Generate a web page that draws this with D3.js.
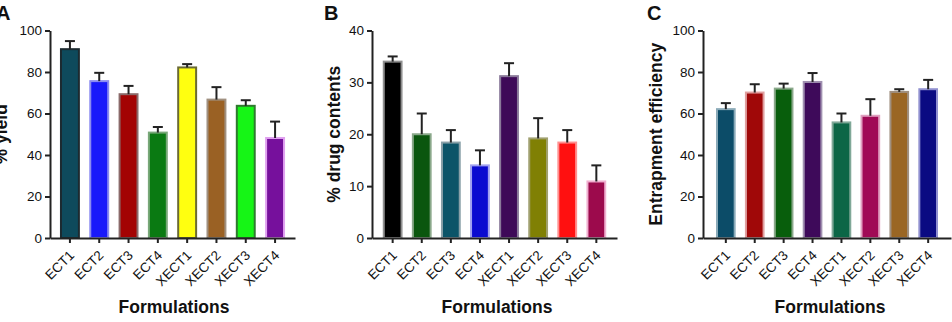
<!DOCTYPE html>
<html>
<head>
<meta charset="UTF-8">
<script src="https://cdn.jsdelivr.net/npm/d3@7"></script>
<style>
body{
    margin:0;
    background-color:#fff;
    font-family: "Liberation Sans", Arial, Helvetica, sans-serif;
}
.axis line, .axis path{
    stroke:#222;
    stroke-width:2px;
}
.axis text{
    font-size:13.5px;
    fill:#111;
}
</style>
</head>
<body>
<script>

var formulations = ["ECT1","ECT2","ECT3","ECT4","XECT1","XECT2","XECT3","XECT4"];

// panel A: % yield
var yieldMean = [91, 75.6, 69.3, 50.8, 82.2, 66.7, 63.7, 48.2];
var yieldErr  = [3.9, 4.0, 4.0, 2.7, 1.6, 6.0, 2.7, 7.9];
var yieldTicks = [0, 20, 40, 60, 80, 100];
var yieldFill = ["#0e4a5c","#1919fa","#a30303","#0a7a12","#ffff10","#9a6124","#16f516","#76109c"];
var yieldStroke = ["#1c2a30","#8c8cf0","#8a6a6a","#7aa87a","#6a6a34","#a09080","#2f7a2f","#e0a0f0"];

// panel B: % drug contents
var drugMean = [34.0, 20.0, 18.4, 14.0, 31.2, 19.2, 18.4, 10.9];
var drugErr  = [1.0, 4.0, 2.4, 2.9, 2.5, 3.9, 2.4, 3.1];
var drugTicks = [0, 10, 20, 30, 40];
var drugFill = ["#000000","#0a560e","#0c5468","#0a0ad0","#3e0a58","#808004","#ff1010","#9c0a4c"];
var drugStroke = ["#909090","#8aa88a","#8aa0a8","#a0a0f0","#8a7a9a","#a0a070","#ff9090","#f0b0d0"];

// panel C: entrapment efficiency
var entMean = [62.1, 70.1, 72.0, 75.2, 55.7, 58.9, 70.4, 71.7];
var entErr  = [2.9, 4.0, 2.4, 4.3, 4.3, 8.0, 1.3, 4.5];
var entTicks = [0, 20, 40, 60, 80, 100];
var entFill = ["#0c4c68","#a00808","#085e0c","#3e0a5a","#0c6646","#a00a56","#9a6624","#0a0a82"];
var entStroke = ["#8aaab8","#e0a0a0","#8aa88a","#a090b0","#80a898","#e0a0c0","#a09080","#9090d0"];

var svg = d3.select("body").append("svg")
    .attr("width", 952)
    .attr("height", 322);

var top_ = 30.5, bottom = 238;

function panel(cfg){
    var x = d3.scaleBand()
        .domain(formulations)
        .range([cfg.left, cfg.left + cfg.w])
        .paddingInner(0.32)
        .paddingOuter(cfg.pad);
    var y = d3.scaleLinear()
        .domain([0, cfg.max])
        .range([bottom, top_]);

    var g = svg.append("g");

    // bars
    g.selectAll(".bar")
        .data(cfg.mean)
        .enter().append("rect")
        .attr("x", function(d,i){ return x(formulations[i]) + 1; })
        .attr("y", function(d){ return y(d); })
        .attr("width", x.bandwidth() - 2)
        .attr("height", function(d){ return bottom - y(d); })
        .attr("fill", function(d,i){ return cfg.fill[i]; })
        .attr("stroke", function(d,i){ return cfg.stroke[i]; })
        .attr("stroke-width", 2);

    // error bars (upper only)
    var cx = function(i){ return x(formulations[i]) + x.bandwidth()/2; };
    g.selectAll(".err")
        .data(cfg.mean)
        .enter().append("line")
        .attr("x1", function(d,i){ return cx(i); })
        .attr("x2", function(d,i){ return cx(i); })
        .attr("y1", function(d){ return y(d); })
        .attr("y2", function(d,i){ return y(d + cfg.err[i]); })
        .attr("stroke", "#222")
        .attr("stroke-width", 2);
    g.selectAll(".cap")
        .data(cfg.mean)
        .enter().append("line")
        .attr("x1", function(d,i){ return cx(i) - 5; })
        .attr("x2", function(d,i){ return cx(i) + 5; })
        .attr("y1", function(d,i){ return y(d + cfg.err[i]); })
        .attr("y2", function(d,i){ return y(d + cfg.err[i]); })
        .attr("stroke", "#222")
        .attr("stroke-width", 2);

    // axes
    g.append("g")
        .attr("class", "axis")
        .attr("transform", "translate(" + cfg.left + ",0)")
        .call(d3.axisLeft(y).tickValues(cfg.ticks).tickSize(5).tickPadding(3).tickSizeOuter(0));

    var gX = g.append("g")
        .attr("class", "axis")
        .attr("transform", "translate(0," + bottom + ")")
        .call(d3.axisBottom(x).tickSize(5).tickSizeOuter(0));
    gX.selectAll("text")
        .attr("text-anchor", "end")
        .attr("dy", null)
        .attr("y", null)
        .attr("transform", "translate(2,15) rotate(-45)")
        .attr("dominant-baseline", "central");

    g.append("text")
        .attr("x", cfg.labelX)
        .attr("y", 313)
        .attr("text-anchor", "middle")
        .attr("font-size", 17.5)
        .attr("font-weight", "bold")
        .attr("fill", "#111")
        .text("Formulations");

    g.append("text")
        .attr("transform", "translate(" + cfg.titleX + "," + ((top_ + bottom)/2) + ") rotate(-90)")
        .attr("text-anchor", "middle")
        .attr("font-size", 17.5)
        .attr("font-weight", "bold")
        .attr("fill", "#111")
        .text(cfg.title);

    g.append("text")
        .attr("x", cfg.letterX)
        .attr("y", 20)
        .attr("font-size", 20)
        .attr("font-weight", "bold")
        .attr("fill", "#111")
        .text(cfg.letter);
}

panel({left:50, w:245, pad:0.34, max:100, mean:yieldMean, err:yieldErr, ticks:yieldTicks,
       fill:yieldFill, stroke:yieldStroke, title:"% yield", titleX:7, letter:"A", letterX:-4, labelX:174});
panel({left:372, w:245, pad:0.37, max:40, mean:drugMean, err:drugErr, ticks:drugTicks,
       fill:drugFill, stroke:drugStroke, title:"% drug contents", titleX:340, letter:"B", letterX:324, labelX:497});
panel({left:703, w:248, pad:0.45, max:100, mean:entMean, err:entErr, ticks:entTicks,
       fill:entFill, stroke:entStroke, title:"Entrapment efficiency", titleX:662, letter:"C", letterX:647, labelX:830});

</script>
</body>
</html>
